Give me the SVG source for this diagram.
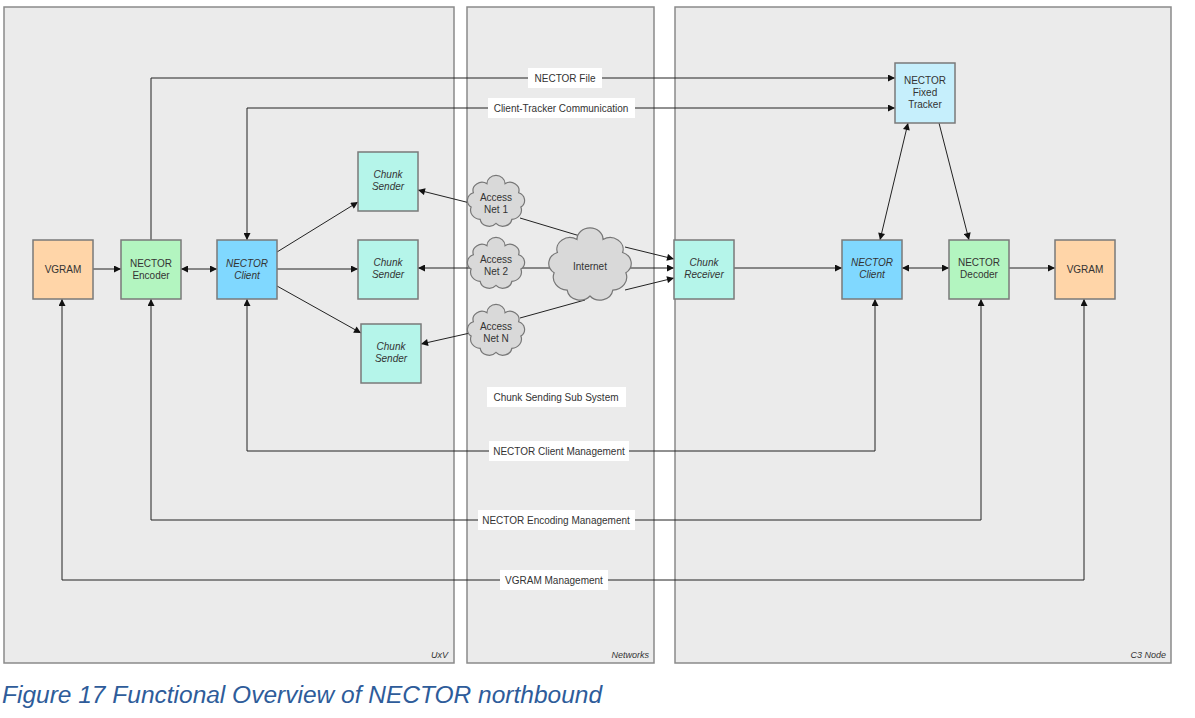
<svg xmlns="http://www.w3.org/2000/svg" width="1195" height="718" viewBox="0 0 1195 718">
<style>
.panel{fill:#ebebeb;stroke:#8a8a8a;stroke-width:1.5}
.node{stroke:#7a7a7a;stroke-width:1.5}
.t{font-family:"Liberation Sans",Arial,sans-serif;font-size:10px;fill:#333;text-anchor:middle}
.ti{font-style:italic}
.pl{font-family:"Liberation Sans",Arial,sans-serif;font-size:9px;font-style:italic;fill:#333;text-anchor:end}
.c{fill:none;stroke:#222;stroke-width:1}
.lbl{fill:#fff}
.cloud{fill:#d9d9d9;stroke:#777;stroke-width:1.2}
</style>
<defs>
<marker id="ah" viewBox="0 0 10 10" refX="10" refY="5" markerWidth="9" markerHeight="7" orient="auto-start-reverse" markerUnits="userSpaceOnUse"><path d="M0,0 L10,5 L0,10 z" fill="#111"/></marker>
<path id="cloudp" vector-effect="non-scaling-stroke" d="M-22,4 A8,8 0 0 1 -20,-10 A8,8 0 0 1 -8,-19 A8,8 0 0 1 8,-19 A8,8 0 0 1 20,-10 A8,8 0 0 1 22,4 A9,9 0 0 1 14,16 A8,8 0 0 1 0,20 A8,8 0 0 1 -14,16 A9,9 0 0 1 -22,4 Z"/>
</defs>
<rect width="1195" height="718" fill="#fff"/>
<g id="panels">
<rect class="panel" x="4" y="7" width="450" height="656"/>
<rect class="panel" x="467" y="7" width="187" height="656"/>
<rect class="panel" x="675" y="7" width="496" height="656"/>
<text class="pl" x="448" y="658">UxV</text>
<text class="pl" x="649" y="658">Networks</text>
<text class="pl" x="1166" y="658">C3 Node</text>
</g>
<g id="connectors">
<polyline class="c" points="151,240 151,78 895,78" marker-end="url(#ah)"/>
<polyline class="c" points="247,240 247,108 895,108" marker-start="url(#ah)" marker-end="url(#ah)"/>
<polyline class="c" points="62,299 62,580 1084,580 1084,299" marker-start="url(#ah)" marker-end="url(#ah)"/>
<polyline class="c" points="151,299 151,520 981,520 981,299" marker-start="url(#ah)" marker-end="url(#ah)"/>
<polyline class="c" points="247,299 247,451 875,451 875,299" marker-start="url(#ah)" marker-end="url(#ah)"/>
<line class="c" x1="93" y1="269" x2="121" y2="269" marker-end="url(#ah)"/>
<line class="c" x1="181" y1="269" x2="217" y2="269" marker-start="url(#ah)" marker-end="url(#ah)"/>
<line class="c" x1="277" y1="252" x2="358" y2="202" marker-end="url(#ah)"/>
<line class="c" x1="277" y1="269" x2="358" y2="269" marker-end="url(#ah)"/>
<line class="c" x1="277" y1="286" x2="361" y2="333" marker-end="url(#ah)"/>
<line class="c" x1="470" y1="203" x2="418" y2="190" marker-end="url(#ah)"/>
<line class="c" x1="470" y1="268" x2="418" y2="268" marker-end="url(#ah)"/>
<line class="c" x1="470" y1="333" x2="421" y2="344" marker-end="url(#ah)"/>
<line class="c" x1="520" y1="218" x2="580" y2="236"/>
<line class="c" x1="520" y1="268" x2="560" y2="268"/>
<line class="c" x1="520" y1="318" x2="585" y2="300"/>
<line class="c" x1="625" y1="247" x2="674" y2="259" marker-end="url(#ah)"/>
<line class="c" x1="628" y1="268" x2="674" y2="268" marker-end="url(#ah)"/>
<line class="c" x1="625" y1="290" x2="674" y2="278" marker-end="url(#ah)"/>
<line class="c" x1="734" y1="268" x2="842" y2="268" marker-end="url(#ah)"/>
<line class="c" x1="902" y1="268" x2="949" y2="268" marker-start="url(#ah)" marker-end="url(#ah)"/>
<line class="c" x1="1009" y1="268" x2="1055" y2="268" marker-end="url(#ah)"/>
<line class="c" x1="908" y1="123" x2="880" y2="240" marker-start="url(#ah)" marker-end="url(#ah)"/>
<line class="c" x1="939" y1="123" x2="969" y2="240" marker-end="url(#ah)"/>
</g>
<g id="labels">
<rect class="lbl" x="528" y="68" width="74" height="20"/>
<text class="t" x="565" y="82">NECTOR File</text>
<rect class="lbl" x="488" y="98" width="147" height="20"/>
<text class="t" x="561" y="112">Client-Tracker Communication</text>
<rect class="lbl" x="487" y="387" width="139" height="20"/>
<text class="t" x="556" y="401">Chunk Sending Sub System</text>
<rect class="lbl" x="489" y="441" width="140" height="20"/>
<text class="t" x="559" y="455">NECTOR Client Management</text>
<rect class="lbl" x="478" y="510" width="157" height="20"/>
<text class="t" x="556" y="524">NECTOR Encoding Management</text>
<rect class="lbl" x="500" y="570" width="108" height="20"/>
<text class="t" x="554" y="584">VGRAM Management</text>
</g>
<g id="vgram-left">
<rect class="node" x="33" y="240" width="60" height="59" fill="#ffd5a8"/>
<text class="t" x="63" y="273">VGRAM</text>
</g>
<g id="nector-encoder">
<rect class="node" x="121" y="240" width="60" height="59" fill="#b3f5c0"/>
<text class="t" x="151" y="267">NECTOR</text>
<text class="t" x="151" y="279">Encoder</text>
</g>
<g id="nector-client-left">
<rect class="node" x="217" y="240" width="60" height="59" fill="#80d8ff"/>
<text class="t ti" x="247" y="267">NECTOR</text>
<text class="t ti" x="247" y="279">Client</text>
</g>
<g id="chunk-sender-1">
<rect class="node" x="358" y="152" width="60" height="59" fill="#b5f5ea"/>
<text class="t ti" x="388" y="178">Chunk</text>
<text class="t ti" x="388" y="190">Sender</text>
</g>
<g id="chunk-sender-2">
<rect class="node" x="358" y="240" width="60" height="59" fill="#b5f5ea"/>
<text class="t ti" x="388" y="266">Chunk</text>
<text class="t ti" x="388" y="278">Sender</text>
</g>
<g id="chunk-sender-3">
<rect class="node" x="361" y="324" width="60" height="59" fill="#b5f5ea"/>
<text class="t ti" x="391" y="350">Chunk</text>
<text class="t ti" x="391" y="362">Sender</text>
</g>
<g id="access-net-1">
<use href="#cloudp" class="cloud" transform="translate(496,203) scale(1.13,1.02)"/>
<text class="t" x="496" y="201">Access</text>
<text class="t" x="496" y="213">Net 1</text>
</g>
<g id="access-net-2">
<use href="#cloudp" class="cloud" transform="translate(496,265) scale(1.13,1.02)"/>
<text class="t" x="496" y="263">Access</text>
<text class="t" x="496" y="275">Net 2</text>
</g>
<g id="access-net-n">
<use href="#cloudp" class="cloud" transform="translate(496,332) scale(1.13,1.02)"/>
<text class="t" x="496" y="330">Access</text>
<text class="t" x="496" y="342">Net N</text>
</g>
<g id="internet">
<use href="#cloudp" class="cloud" transform="translate(590,267) scale(1.63,1.45)"/>
<text class="t" x="590" y="270">Internet</text>
</g>
<g id="chunk-receiver">
<rect class="node" x="674" y="240" width="60" height="59" fill="#b5f5ea"/>
<text class="t ti" x="704" y="266">Chunk</text>
<text class="t ti" x="704" y="278">Receiver</text>
</g>
<g id="nector-client-right">
<rect class="node" x="842" y="240" width="60" height="59" fill="#80d8ff"/>
<text class="t ti" x="872" y="266">NECTOR</text>
<text class="t ti" x="872" y="278">Client</text>
</g>
<g id="nector-decoder">
<rect class="node" x="949" y="240" width="60" height="59" fill="#b3f5c0"/>
<text class="t" x="979" y="266">NECTOR</text>
<text class="t" x="979" y="278">Decoder</text>
</g>
<g id="vgram-right">
<rect class="node" x="1055" y="240" width="60" height="59" fill="#ffd5a8"/>
<text class="t" x="1085" y="273">VGRAM</text>
</g>
<g id="nector-fixed-tracker">
<rect class="node" x="895" y="63" width="60" height="60" fill="#c6effc"/>
<text class="t" x="925" y="84">NECTOR</text>
<text class="t" x="925" y="96">Fixed</text>
<text class="t" x="925" y="108">Tracker</text>
</g>
<text x="2" y="703" font-family="'Liberation Sans',Arial,sans-serif" font-size="23" font-style="italic" fill="#2e5c9a" textLength="600" lengthAdjust="spacingAndGlyphs">Figure 17 Functional Overview of NECTOR northbound</text>
</svg>
